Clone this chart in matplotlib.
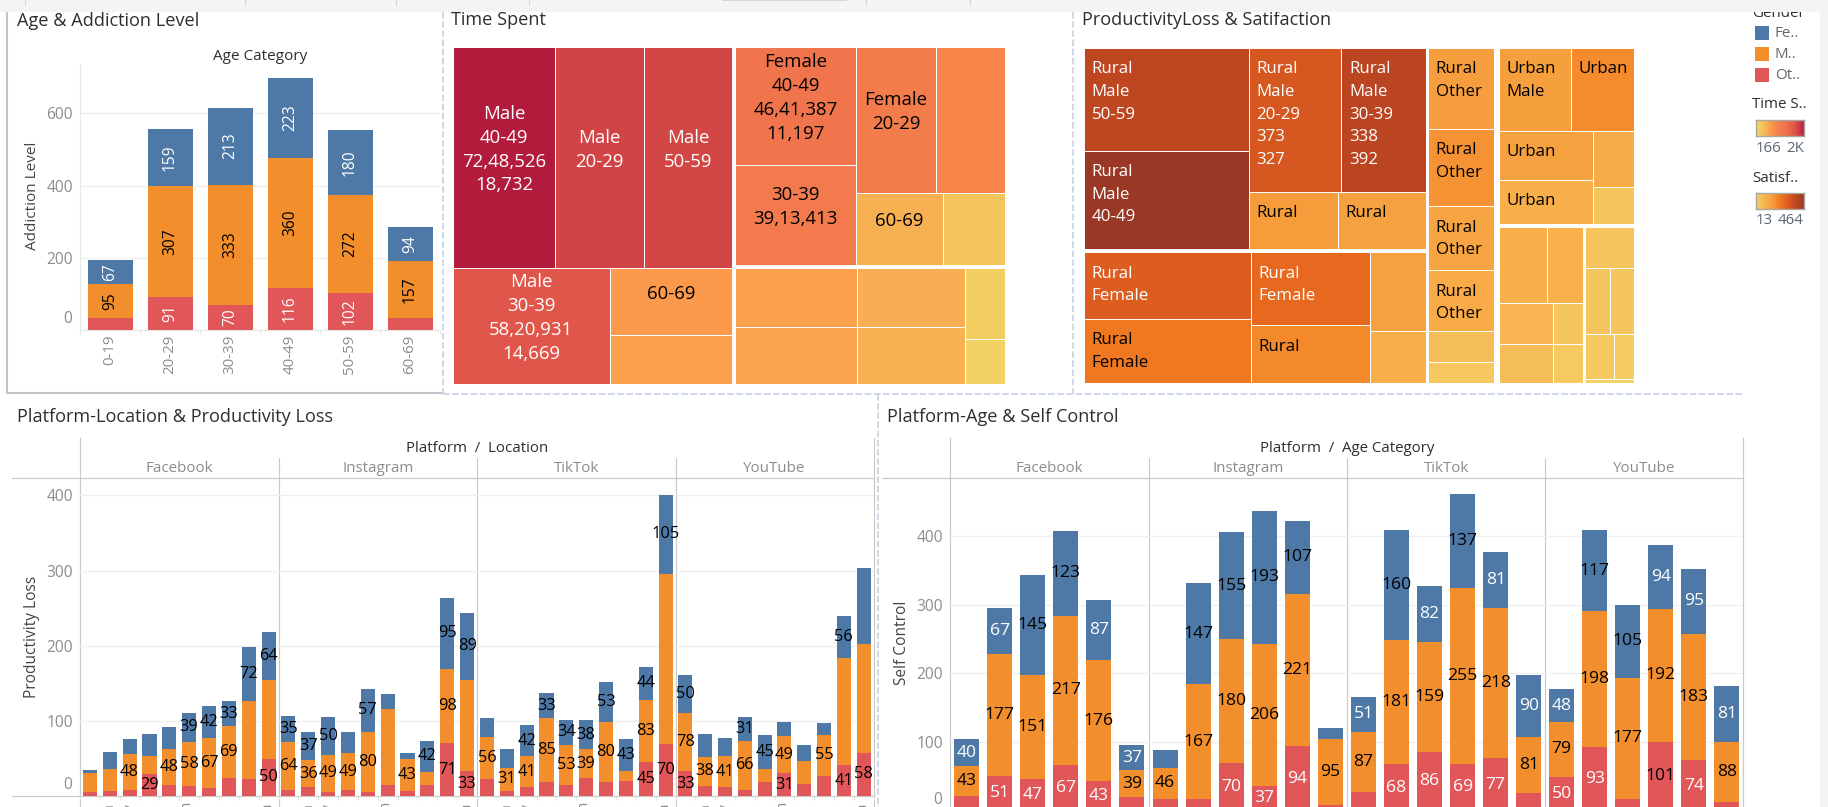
import numpy as np
import matplotlib
matplotlib.use("Agg")
import matplotlib.pyplot as plt
from matplotlib.colors import LinearSegmentedColormap, Normalize
from matplotlib.patches import Rectangle

plt.rcParams['font.family'] = ['Open Sans', 'DejaVu Sans']

# ---------- data ----------
age_cats = ['0-19', '20-29', '30-39', '40-49', '50-59', '60-69']
age_red = [33, 91, 70, 116, 102, 33]
age_orange = [95, 307, 333, 360, 272, 157]
age_blue = [67, 159, 213, 223, 180, 94]
age_red_lab = [None, 91, 70, 116, 102, None]

platforms = ['Facebook', 'Instagram', 'TikTok', 'YouTube']
locations = ['Barzil', 'China', 'Germany', 'India', 'Indonesia', 'Japan', 'Mexico', 'Pakistan', 'Philippines', 'Vietnam']

loc_red = [[6, 7, 8, 29, 15, 14, 11, 24, 23, 50],
           [8, 12, 6, 8, 6, 15, 7, 15, 71, 33],
           [23, 7, 12, 19, 15, 24, 19, 20, 45, 70],
           [33, 14, 12, 8, 19, 31, 16, 27, 41, 58]]
loc_orange = [[25, 29, 48, 25, 48, 58, 67, 69, 104, 105],
              [64, 36, 49, 49, 80, 101, 43, 17, 98, 122],
              [56, 31, 41, 85, 53, 39, 80, 13, 83, 226],
              [78, 38, 41, 66, 17, 49, 31, 55, 143, 144]]
loc_blue = [[4, 23, 20, 29, 29, 39, 42, 33, 72, 64],
            [35, 37, 50, 28, 57, 20, 8, 42, 95, 89],
            [25, 25, 42, 33, 34, 38, 53, 43, 44, 105],
            [50, 31, 25, 31, 45, 19, 21, 16, 56, 101]]
loc_red_lab = [[None, None, None, 29, None, None, None, None, None, 50],
               [None, None, None, None, None, None, None, None, 71, 33],
               [None, None, None, None, None, None, None, None, 45, 70],
               [33, None, None, None, None, 31, None, None, 41, 58]]
loc_orange_lab = [[None, None, 48, None, 48, 58, 67, 69, None, None],
                  [64, 36, 49, 49, 80, None, 43, None, 98, None],
                  [56, 31, 41, 85, 53, 39, 80, None, 83, None],
                  [78, 38, 41, 66, None, 49, None, 55, None, None]]
loc_blue_lab = [[None, None, None, None, None, 39, 42, 33, 72, 64],
                [35, 37, 50, None, 57, None, None, 42, 95, 89],
                [None, None, 42, 33, 34, 38, 53, 43, 44, 105],
                [50, None, None, 31, 45, None, None, None, 56, None]]

ctl_red = [[22, 51, 47, 67, 43, 20],
           [17, 17, 70, 37, 94, 9],
           [28, 68, 86, 69, 77, 26],
           [50, 93, 17, 101, 74, 13]]
ctl_orange = [[43, 177, 151, 217, 176, 39],
              [46, 167, 180, 206, 221, 95],
              [87, 181, 159, 255, 218, 81],
              [79, 198, 177, 192, 183, 88]]
ctl_blue = [[40, 67, 145, 123, 87, 37],
            [25, 147, 155, 193, 107, 17],
            [51, 160, 82, 137, 81, 90],
            [48, 117, 105, 94, 95, 81]]
ctl_red_lab = [[None, 51, 47, 67, 43, None],
               [None, None, 70, 37, 94, None],
               [None, 68, 86, 69, 77, None],
               [50, 93, None, 101, 74, None]]
ctl_orange_lab = [[43, 177, 151, 217, 176, 39],
                  [46, 167, 180, 206, 221, 95],
                  [87, 181, 159, 255, 218, 81],
                  [79, 198, 177, 192, 183, 88]]
ctl_blue_lab = [[40, 67, 145, 123, 87, 37],
                [None, 147, 155, 193, 107, None],
                [51, 160, 82, 137, 81, 90],
                [48, 117, 105, 94, 95, 81]]

# treemap "Time Spent": sizes / colours by time spent
time_male = [7248526, 6320000, 6290000, 5820931, 2640000, 1930000]
time_male_shade = [7248526, 6320000, 6290000, 5820931, 2640000, 2350000]
time_male_lab = ['Male\n40-49\n72,48,526\n18,732', 'Male\n20-29', 'Male\n50-59',
                 'Male\n30-39\n58,20,931\n14,669', '60-69', '']
time_female = [4641387, 3913413, 3790000, 3270000, 2030000, 1450000]
time_female_lab = ['Female\n40-49\n46,41,387\n11,197', '30-39\n39,13,413', 'Female\n20-29', '', '60-69', '']
time_other = [2350000, 2240000, 2070000, 1970000, 930000, 580000]
time_other_lab = ['', '', '', '', '', '']

# treemap "ProductivityLoss & Satifaction": size = loss, colour = satisfaction
rm_loss = [473, 455, 373, 338, 144, 141]
rm_sat = [385, 464, 327, 392, 165, 150]
rm_lab = ['Rural\nMale\n50-59', 'Rural\nMale\n40-49', 'Rural\nMale\n20-29\n373\n327',
          'Rural\nMale\n30-39\n338\n392', 'Rural', 'Rural']
rf_loss = [311, 300, 243, 191, 124, 81]
rf_sat = [310, 240, 280, 205, 150, 105]
rf_lab = ['Rural\nFemale', 'Rural\nFemale', 'Rural\nFemale', 'Rural', '', '']
ro_loss = [148, 141, 117, 111, 56, 39]
ro_sat = [160, 185, 135, 115, 65, 40]
ro_lab = ['Rural\nOther', 'Rural\nOther', 'Rural\nOther', 'Rural\nOther', '', '']
um_loss = [167, 145, 130, 116, 64, 42]
um_sat = [158, 200, 150, 105, 110, 50]
um_lab = ['Urban\nMale', 'Urban', 'Urban', 'Urban', '', '']
uf_loss = [104, 77, 63, 60, 35, 33]
uf_sat = [100, 98, 90, 65, 45, 35]
uo_loss = [56, 46, 46, 37, 25, 5]
uo_sat = [50, 45, 45, 40, 30, 20]

time_stops = [580000, 930000, 1450000, 2000000, 2350000, 2640000, 3270000, 3900000, 4640000, 5820000, 6300000, 7248526]
time_colors = ['#F3D164', '#F3CE60', '#F4C55A', '#F7B253', '#FBA04D', '#FB9A4D', '#F8864A', '#F27A4C', '#F0744C', '#E0574A', '#D24646', '#B31B3C']
sat_stops = [13, 60, 110, 160, 200, 240, 280, 320, 390, 464]
sat_colors = ['#F5D265', '#F6C05A', '#F8AC48', '#F69E3D', '#F58B2D', '#F07820', '#E6691F', '#D9591F', '#BC4621', '#9B3825']

legend_genders = ['Fe..', 'M..', 'Ot..']

# ---------- style ----------
W, H = 1828, 807
BLUE, ORANGE, RED = '#4E79A7', '#F28E2B', '#E15759'
INK = '#2E2E2E'
GREY = '#8C8C8C'
RULE = '#C9C9C9'
GRID = '#F0F0F0'
DASH = '#C5D1E3'


def make_cmap(stops, colors):
    lo, hi = stops[0], stops[-1]
    pos = [(s - lo) / (hi - lo) for s in stops]
    return LinearSegmentedColormap.from_list('c', list(zip(pos, colors))), Normalize(lo, hi)


time_cmap, time_norm = make_cmap(time_stops, time_colors)
sat_cmap, sat_norm = make_cmap(sat_stops, sat_colors)

fig = plt.figure(figsize=(W / 100, H / 100), dpi=100, facecolor='white')


def px_axes(l, t, r, b, z=1):
    ax = fig.add_axes([l / W, 1 - b / H, (r - l) / W, (b - t) / H], zorder=z)
    ax.patch.set_alpha(0)
    return ax


bg = px_axes(0, 0, W, H, 0)
bg.set_xlim(0, W)
bg.set_ylim(H, 0)
bg.axis('off')

top = px_axes(0, 0, W, H, 20)
top.set_xlim(0, W)
top.set_ylim(H, 0)
top.axis('off')
top.add_patch(Rectangle((0, 0), W, 12, fc='#F4F4F4', ec='none'))
top.add_patch(Rectangle((1820, 0), 8, H, fc='#F4F4F4', ec='none'))
for x in [25, 245, 396, 529, 866, 970]:
    top.plot([x, x], [0, 5], color='#D5D5D5', lw=0.8)
top.add_patch(Rectangle((722, 0), 125, 1.2, fc='#D6D6D6', ec='none'))

# frames and dashed separators
bg.plot([7, 7, 443], [12, 393, 393], color='#C4C4C9', lw=1.5)
dash_style = dict(color=DASH, lw=1.2, ls=(0, (4, 1.5)))
bg.plot([443, 443], [12, 394], **dash_style)
bg.plot([1073, 1073], [12, 394], **dash_style)
bg.plot([878, 878], [394, H], **dash_style)
bg.plot([443, 1744], [394, 394], **dash_style)

# titles
title_kw = dict(color=INK, fontsize=13.1, va='center', ha='left')
bg.text(17, 20.5, 'Age & Addiction Level', **title_kw)
bg.text(451, 20, 'Time Spent', **title_kw)
bg.text(1082, 20, 'ProductivityLoss & Satifaction', **title_kw)
bg.text(17, 416.5, 'Platform-Location & Productivity Loss', **title_kw)
bg.text(887, 416.5, 'Platform-Age & Self Control', **title_kw)


def seg_labels(ax, xs, bottoms, vals, labs, color_fn, size, rotation=0):
    for x, b, v, lab in zip(xs, bottoms, vals, labs):
        if lab is None:
            continue
        ax.text(x, b + v / 2, str(lab), ha='center', va='center', color=color_fn(lab),
                fontsize=size, rotation=rotation, zorder=5, clip_on=False)


def stacked(ax, red, orange, blue, labs, colors, size, width, rotation=0):
    xs = np.arange(len(red))
    red, orange, blue = map(np.array, (red, orange, blue))
    ax.bar(xs, red, width, color=RED, zorder=3)
    ax.bar(xs, orange, width, bottom=red, color=ORANGE, zorder=3)
    ax.bar(xs, blue, width, bottom=red + orange, color=BLUE, zorder=3)
    seg_labels(ax, xs, 0 * red, red, labs[0], colors[0], size, rotation)
    seg_labels(ax, xs, red, orange, labs[1], colors[1], size, rotation)
    seg_labels(ax, xs, red + orange, blue, labs[2], colors[2], size, rotation)


def clean(ax, yticks, ymax, n, showy):
    ax.set_xlim(-0.5, n - 0.5)
    ax.set_ylim(0, ymax)
    for s in ax.spines.values():
        s.set_visible(False)
    ax.set_yticks(yticks)
    ax.yaxis.grid(True, color=GRID, lw=1, zorder=0)
    ax.set_axisbelow(True)
    ax.tick_params(axis='y', length=0, pad=5, labelsize=11.2, labelcolor=GREY, labelleft=showy)
    if showy:
        ax.set_yticklabels([''] + [str(t) for t in yticks[1:]])
        ax.annotate('0', xy=(0, 0), xycoords=('axes fraction', 'data'), xytext=(-5.8, 7.8),
                    textcoords='offset points', ha='right', va='center', color=GREY, fontsize=11.2)
    ax.set_xticks(np.arange(n + 1) - 0.5, minor=True)
    ax.tick_params(axis='x', which='minor', length=3, color='#E4E4E4', width=0.8)
    ax.tick_params(axis='x', which='major', length=0)


# ---------- chart 1: Age & Addiction ----------
ax1 = px_axes(80, 64, 440, 330, 2)
white = lambda v: 'white'
black = lambda v: 'black'
stacked(ax1, age_red, age_orange, age_blue, (age_red_lab, age_orange, age_blue),
        (white, black, white), 11.2, 0.75, rotation=90)
clean(ax1, [0, 200, 400, 600], 737, 6, True)
ax1.set_xticks(np.arange(6))
ax1.set_xticklabels(age_cats, rotation=90, color=GREY, fontsize=10.8)
ax1.tick_params(axis='x', which='major', pad=3)
ax1.spines['bottom'].set_visible(True)
ax1.spines['bottom'].set_color('#E8E8E8')
ax1.spines['left'].set_visible(True)
ax1.spines['left'].set_color('#E8E8E8')
bg.text(260, 56, 'Age Category', ha='center', va='center', color=INK, fontsize=11)
bg.text(32, 196, 'Addiction Level', rotation=90, ha='center', va='center', color='#444444', fontsize=11)


# ---------- facet charts ----------
def facet_frame(edges, bottom, left_rule, title, ytitle, ytitle_x, ytitle_y):
    bg.plot([left_rule, edges[-1]], [478, 478], color=RULE, lw=0.85)
    bg.plot([edges[0], edges[0]], [438, bottom], color=RULE, lw=0.85)
    bg.plot([edges[-1], edges[-1]], [438, bottom], color=RULE, lw=0.85)
    for e in edges[1:-1]:
        bg.plot([e, e], [458, bottom], color=RULE, lw=0.85)
    for i, name in enumerate(platforms):
        bg.text((edges[i] + edges[i + 1]) / 2, 468.7, name, ha='center', va='center', color=GREY, fontsize=10.9)
    bg.text((edges[0] + edges[-1]) / 2, 448.7, title, ha='center', va='center', color=INK, fontsize=10.8)
    bg.text(ytitle_x, ytitle_y, ytitle, rotation=90, ha='center', va='center', color='#444444', fontsize=11.2)


edges4 = [80, 278.5, 477, 675.5, 873.5]
facet_frame(edges4, H, 12, 'Platform  /  Location', 'Productivity Loss', 32, 636.7)
bg.plot([12, 873.5], [796.3, 796.3], color=RULE, lw=0.85)
for i in range(4):
    ax = px_axes(edges4[i], 478, edges4[i + 1], 796.3, 2)
    stacked(ax, loc_red[i], loc_orange[i], loc_blue[i],
            (loc_red_lab[i], loc_orange_lab[i], loc_blue_lab[i]), (black, black, black), 11.8, 0.71)
    clean(ax, [0, 100, 200, 300, 400], 423, 10, i == 0)
    ax.set_xticks(np.arange(10))
    ax.set_xticklabels(locations, rotation=90, color=GREY, fontsize=10.5, va='top')
    ax.tick_params(axis='x', which='major', pad=5)

edges5 = [950.3, 1148.5, 1347, 1545.2, 1743.3]
facet_frame(edges5, H, 882, 'Platform  /  Age Category', 'Self Control', 902, 643)
auto_col = lambda v: 'white' if v < 100 else 'black'
for i in range(4):
    ax = px_axes(edges5[i], 478, edges5[i + 1], 811, 2)
    stacked(ax, ctl_red[i], ctl_orange[i], ctl_blue[i],
            (ctl_red_lab[i], ctl_orange_lab[i], ctl_blue_lab[i]), (auto_col, black, auto_col), 12.6, 0.757)
    clean(ax, [0, 100, 200, 300, 400], 484, 6, i == 0)
    ax.set_xticks([])


# ---------- treemaps ----------
def total(node, vals):
    if isinstance(node, int):
        return vals[node]
    return sum(total(k, vals) for k in node[2])


def layout(node, vals, x0, y0, x1, y1, out):
    if isinstance(node, int):
        out[node] = (x0, y0, x1, y1)
        return
    d, gap, kids = node
    ext = (x1 - x0) if d == 'h' else (y1 - y0)
    room = ext - gap * (len(kids) - 1)
    tot = total(node, vals)
    pos = x0 if d == 'h' else y0
    for k in kids:
        size = room * total(k, vals) / tot
        if d == 'h':
            layout(k, vals, pos, y0, pos + size, y1, out)
        else:
            layout(k, vals, x0, pos, x1, pos + size, out)
        pos += size + gap


def treemap(l, t, r, b, tree, sizes, shades, cmap, norm, labels, white_above, label_kw, xytext, fs=11.7, ls=1.0):
    ax = px_axes(l, t, r, b, 2)
    ax.set_xlim(0, r - l)
    ax.set_ylim(b - t, 0)
    ax.axis('off')
    out = {}
    layout(tree, sizes, 0, 0, r - l, b - t, out)
    for i, (x0, y0, x1, y1) in out.items():
        ax.add_patch(Rectangle((x0, y0), x1 - x0, y1 - y0, fc=cmap(norm(shades[i])), ec='white', lw=0.7))
        if labels[i]:
            col = 'white' if shades[i] >= white_above else 'black'
            if label_kw['ha'] == 'center':
                xy = ((x0 + x1) / 2, (y0 + y1) / 2)
            else:
                xy = (x0, y0)
            ax.annotate(labels[i], xy=xy, xytext=xytext, textcoords='offset points', color=col,
                        fontsize=fs, linespacing=ls, **label_kw)
    return ax


t_sizes = time_male + time_female + time_other
t_shades = time_male_shade + time_female + time_other
t_labels = time_male_lab + time_female_lab + time_other_lab
t_tree = ('h', 2.4, [
    ('v', 0, [('h', 0, [0, 1, 2]), ('h', 0, [3, ('v', 0, [4, 5])])]),
    ('v', 2.7, [
        ('h', 0, [('v', 0, [6, 7]), ('v', 0, [('h', 0, [8, 9]), ('h', 0, [10, 11])])]),
        ('h', 0, [('v', 0, [12, 13]), ('v', 0, [14, 15]), ('v', 0, [16, 17])]),
    ]),
])
treemap(453, 47, 1005, 384, t_tree, t_sizes, t_shades, time_cmap, time_norm, t_labels, 5000000,
        dict(ha='center', va='center', multialignment='center'), (0, 5.8), fs=13.4, ls=1.42)

p_sizes = rm_loss + rf_loss + ro_loss + um_loss + uf_loss + uo_loss
p_shades = rm_sat + rf_sat + ro_sat + um_sat + uf_sat + uo_sat
p_labels = rm_lab + rf_lab + ro_lab + um_lab + [''] * 12
b = 6
p_tree = ('h', 4.8, [
    ('h', 2.4, [
        ('v', 3, [
            ('h', 0, [('v', 0, [0, 1]), ('v', 0, [('h', 0, [2, 3]), ('h', 0, [4, 5])])]),
            ('h', 0, [('v', 0, [b, b + 1]), ('v', 0, [b + 2, b + 3]), ('v', 0, [b + 4, b + 5])]),
        ]),
        ('v', 0, list(range(12, 18))),
    ]),
    ('v', 3.3, [
        ('v', 0, [('h', 0, [18, 19]), ('h', 0, [('v', 0, [20, 21]), ('v', 0, [22, 23])])]),
        ('h', 2.9, [
            ('v', 0, [('h', 0, [24, 25]), ('h', 0, [('v', 0, [26, 27]), ('v', 0, [28, 29])])]),
            ('v', 0, [30, ('h', 0, [31, 32]), ('h', 0, [33, 34]), 35]),
        ]),
    ]),
])
treemap(1084, 48, 1634, 383, p_tree, p_sizes, p_shades, sat_cmap, sat_norm, p_labels, 265,
        dict(ha='left', va='top', multialignment='left'), (5.5, -9.6), fs=12.2, ls=1.55)

# ---------- legends ----------
bg.text(1752, 17, 'Gender', color=INK, fontsize=10.9, ha='left', va='baseline')
for y, c, name in zip([26, 47, 68], [BLUE, ORANGE, RED], legend_genders):
    bg.add_patch(Rectangle((1755, y), 14, 14, fc=c, ec='none'))
    bg.text(1775, y + 7.5, name, color='#666666', fontsize=10.9, ha='left', va='center')
bg.text(1752, 104.7, 'Time S..', color=INK, fontsize=10.9, ha='left', va='center')
bg.text(1752, 178, 'Satisf..', color=INK, fontsize=10.9, ha='left', va='center')
for (t, btm, cmap) in [(120, 136, time_cmap), (193, 209, sat_cmap)]:
    cax = px_axes(1756, t, 1804, btm, 2)
    cax.imshow(np.linspace(0, 1, 128)[None, :], cmap=cmap, aspect='auto')
    cax.set_xticks([])
    cax.set_yticks([])
    for s in cax.spines.values():
        s.set_color('#A8A8A0')
        s.set_linewidth(1)
for y, lo, hi in [(148, '166', '2K'), (221, '13', '464')]:
    bg.text(1756, y, lo, color='#5C6670', fontsize=10.8, ha='left', va='center')
    bg.text(1804, y, hi, color='#5C6670', fontsize=10.8, ha='right', va='center')

fig.savefig('out.png', dpi=100, facecolor='white')
